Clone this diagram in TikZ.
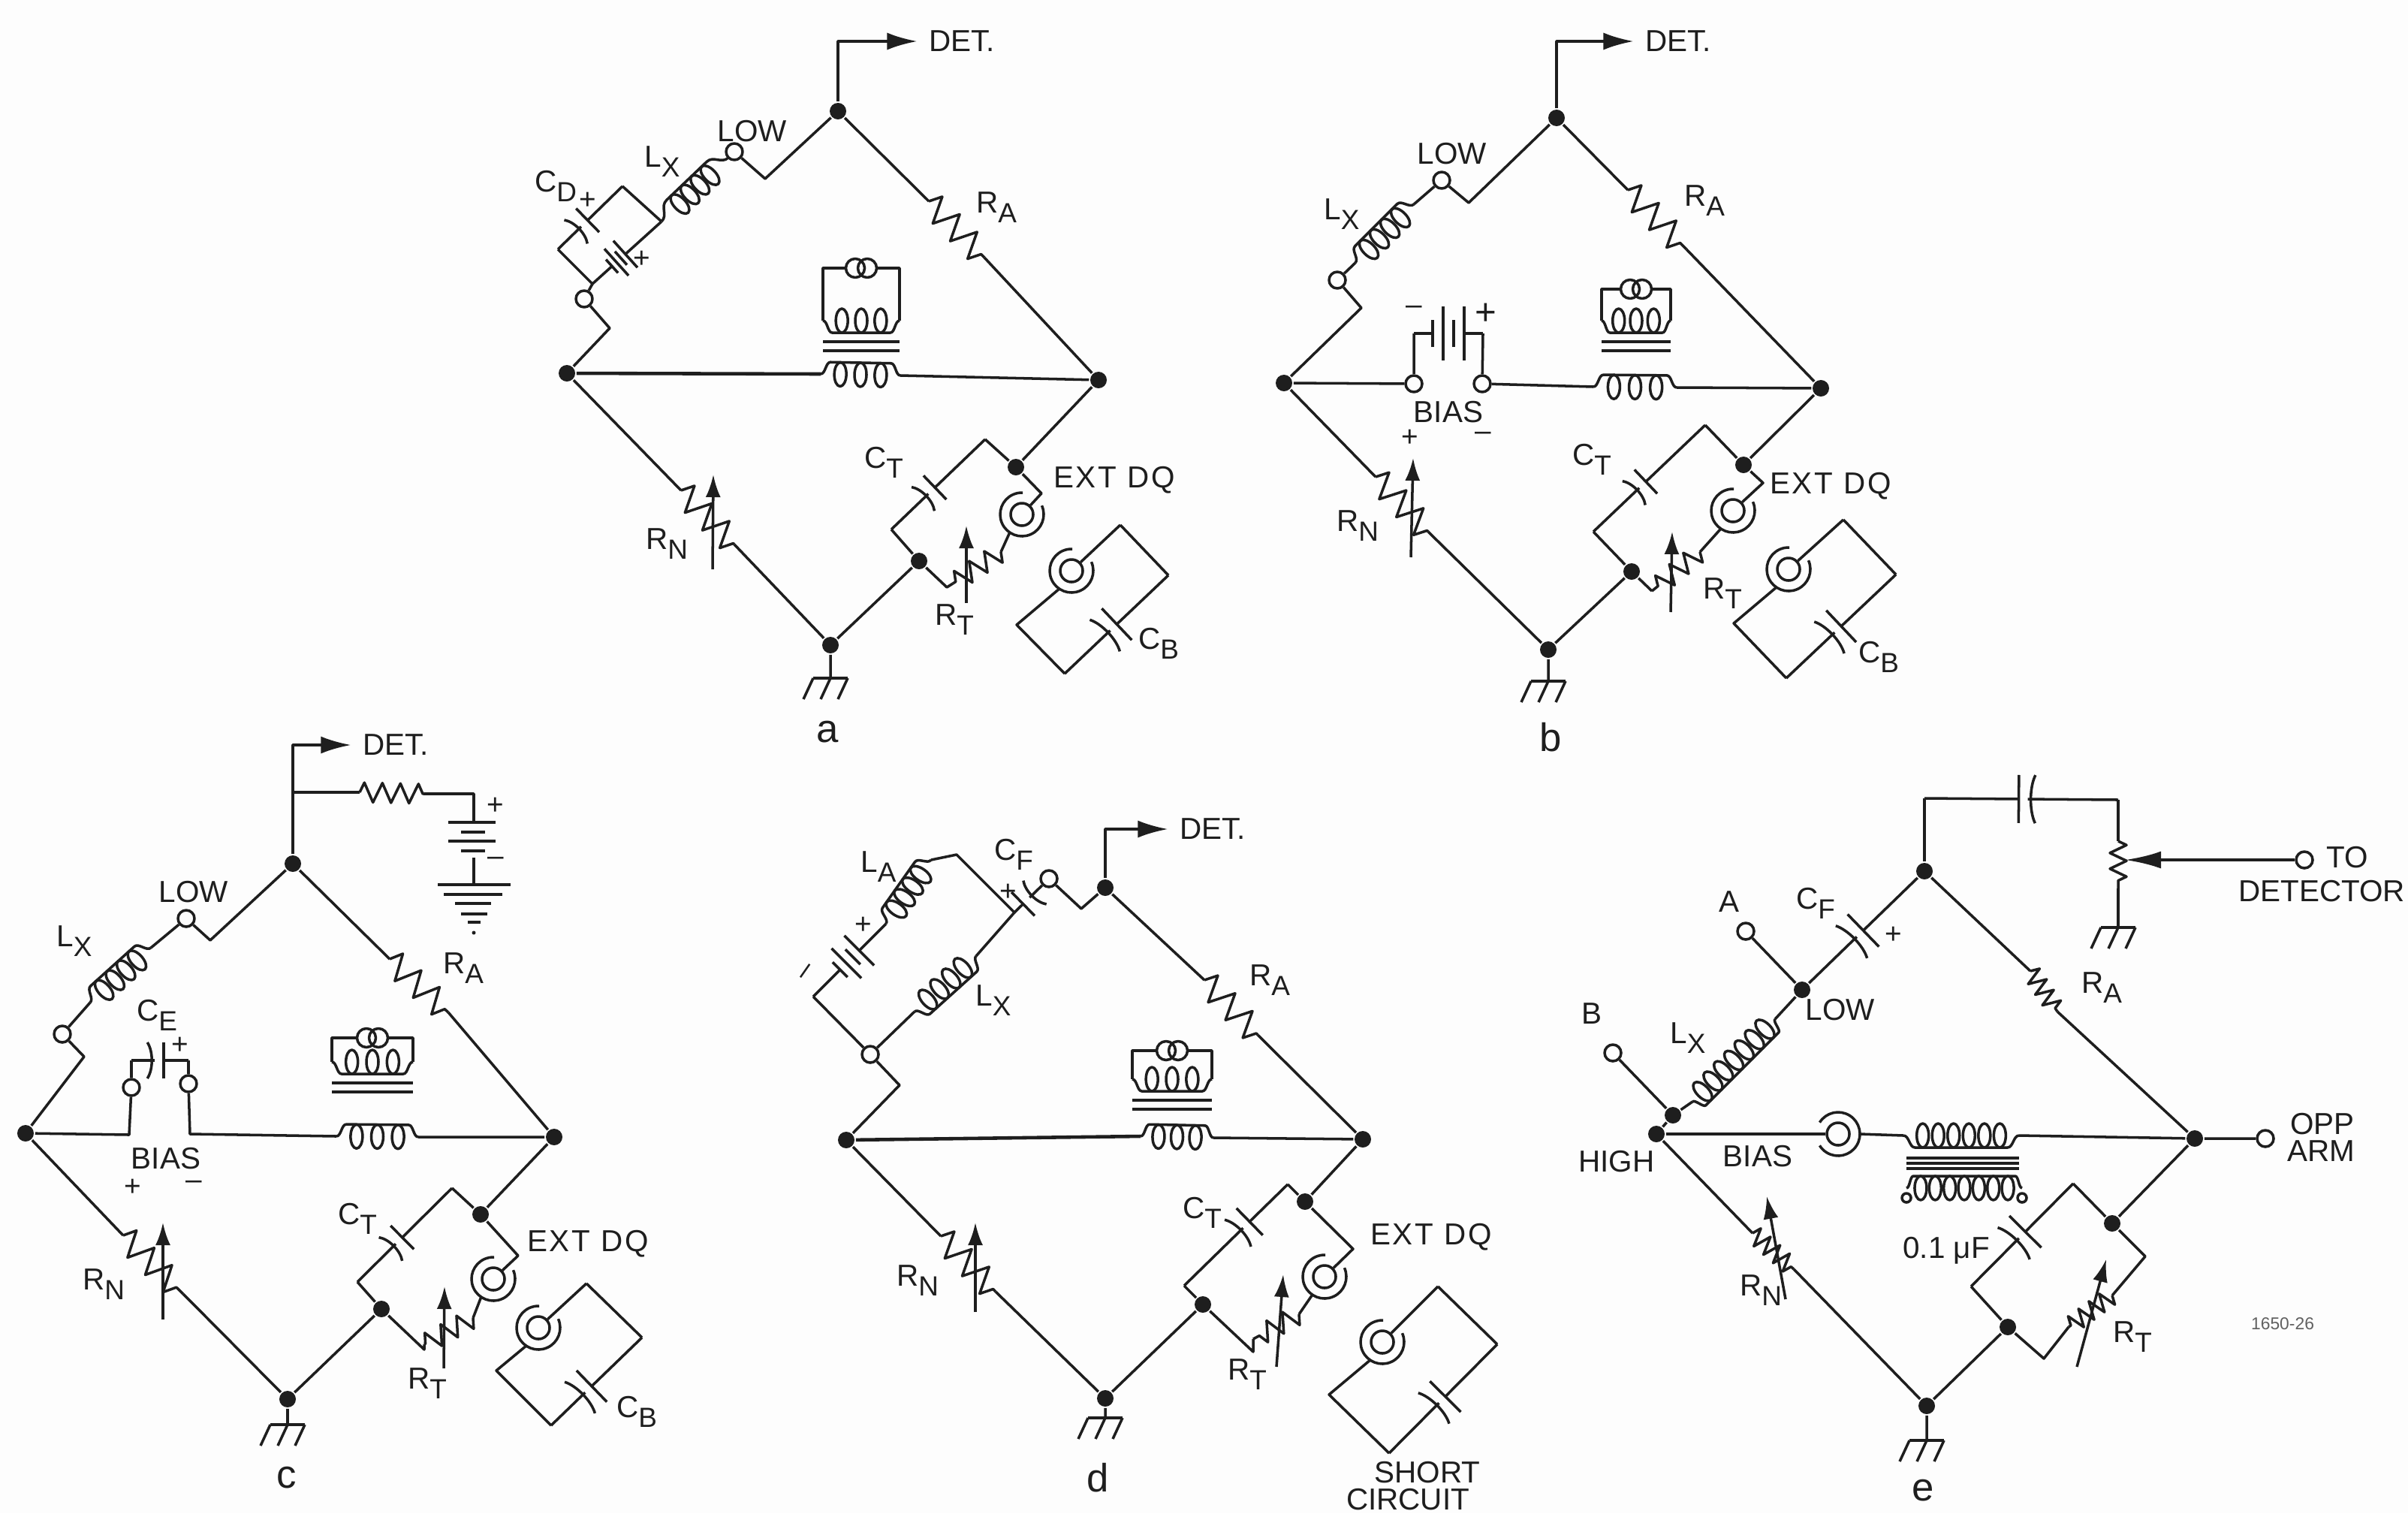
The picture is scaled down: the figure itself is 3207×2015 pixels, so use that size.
\documentclass[tikz,border=0pt]{standalone}
\usepackage{fontspec}
\setmainfont{Liberation Sans}
\newfontfamily\spacedfont[LetterSpace=7]{Liberation Sans}
\usepackage{tikz}
\usetikzlibrary{arrows.meta,calc,decorations.markings,decorations.pathmorphing}
\definecolor{ink}{HTML}{1E1E1E}
\definecolor{paper}{HTML}{FDFDFD}
\tikzset{
  dot/.style={circle,fill=ink,inner sep=0pt,minimum size=.22cm},
  term/.style={circle,draw=ink,fill=paper,inner sep=0pt,minimum size=.22cm},
  jackin/.style={circle,draw=ink,inner sep=0pt,minimum size=.3cm},
  pickring/.style={circle,draw=ink,inner sep=0pt,minimum size=.25cm},
  lbl/.style={inner sep=0pt,text=ink,font=\fontsize{11.5}{13}\selectfont},
  panel/.style={inner sep=0pt,text=ink,font=\fontsize{15}{17}\selectfont},
  sign/.style={inner sep=0pt,text=ink,font=\fontsize{11}{12}\selectfont},
  tiny/.style={inner sep=0pt,text=ink!70,font=\fontsize{6.5}{8}\selectfont},
  detarrow/.style={-{Latex[length=.4cm,width=.23cm]},shorten >=.14cm},
  varr/.style={-{Latex[length=.3cm,width=.2cm]}},
  zig/.style={decorate,decoration={zigzag,segment length=.33cm,amplitude=.17cm}},
  zigt/.style={decorate,decoration={zigzag,segment length=.24cm,amplitude=.13cm}},
  zign/.style={decorate,decoration={zigzag,segment length=.17cm,amplitude=.12cm}},
  capa/.style args={#1/#2}{postaction={decorate,decoration={markings,mark=at position #1 with {
    \fill[paper] (-6,-6) rectangle (6,6);
    \draw (-6,-#2) -- (-6,#2);
    \draw (16,-#2) .. controls (8,-#2/2) and (8,#2/2) .. (16,#2);
  }}}},
  batt/.style args={#1/#2/#3}{postaction={decorate,decoration={markings,mark=at position #1 with {
    \fill[paper] (-1.5*#3,-8) rectangle (1.5*#3,8);
    \draw (-1.5*#3,-#2) -- (-1.5*#3,#2);
    \draw (-.5*#3,-#2/2) -- (-.5*#3,#2/2);
    \draw (.5*#3,-#2) -- (.5*#3,#2);
    \draw (1.5*#3,-#2/2) -- (1.5*#3,#2/2);
  }}}},
  gnd/.pic={
    \draw (-23,0) -- (23,0);
    \foreach \i in {-23,0,23} \draw (\i,0) -- ++(-13,28);
  },
}
\newcommand{\lab}[2]{#1\raisebox{-3.6pt}{\fontsize{10.5}{12}\selectfont #2}}
% winding: from, to, loops, side of the running line, part left for each lead
\newcommand{\coilr}[5]{
  \pgfmathsetmacro{\cpc}{(1-2*#5)/#3}
  \pgfmathsetmacro{\cpa}{#5+.5*\cpc}
  \pgfmathsetmacro{\cpb}{1-#5-.4*\cpc}
  \path[decorate,decoration={markings,mark=between positions \cpa and \cpb step \cpc with {\draw (0,0) ellipse (8 and 16);}}] (#1) -- (#2);
  \draw (#1) .. controls ($(#1)!#5/2!(#2)$) and ($(#1)!#5/2!(#2)!#4*.16cm!90:(#2)$) .. ($(#1)!#5!(#2)!#4*.16cm!90:(#2)$)
    -- ($(#2)!#5!(#1)!#4*.16cm!-90:(#1)$) .. controls ($(#2)!#5/2!(#1)!#4*.16cm!-90:(#1)$) and ($(#2)!#5/2!(#1)$) .. (#2);
}
% coaxial jack: name, centre, direction of the opening
\newcommand{\jack}[3]{
  \node[jackin] (#1) at (#2) {};
  \draw ($(#1)+(#3+32:29)$) arc[start angle=#3+32,end angle=#3+328,radius=29];
  \coordinate (#1o) at ($(#1)+(#3+180:29)$);
}
% detector transformer above the line: prefix, x, box top, half width, core y
\newcommand{\pickup}[5]{
  \node[pickring] (#1Xfa) at (#2-8,#3) {};
  \node[pickring] (#1Xfb) at (#2+8,#3) {};
  \coordinate (#1Xfc) at (#2-#4,#3);
  \coordinate (#1Xfd) at (#2+#4,#3);
  \coordinate (#1Xfe) at (#2-#4,#5-28);
  \coordinate (#1Xff) at (#2+#4,#5-28);
  \draw (#1Xfa) -- (#1Xfc) -- (#1Xfe);
  \coilr{#1Xfe}{#1Xff}{3}{-1}{.12}
  \draw (#1Xff) -- (#1Xfd) -- (#1Xfb);
  \draw (#2-#4,#5) -- (#2+#4,#5);
  \draw (#2-#4,#5+12) -- (#2+#4,#5+12);
}
% test capacitor path: prefix, upper corner, left corner, capacitor place, plate half
\newcommand{\ctarm}[5]{
  \coordinate (#1Cu) at (#2);
  \coordinate (#1Cl) at (#3);
  \draw (#1P) -- (#1Cu);
  \draw[capa=#4/#5] (#1Cu) -- (#1Cl);
  \draw (#1Cl) -- (#1Q);
}
% loose jack and capacitor: prefix, top, right, bottom, left, jack centre, capacitor place
\newcommand{\extloop}[7]{
  \coordinate (#1Et) at (#2);
  \coordinate (#1Er) at (#3);
  \coordinate (#1Eb) at (#4);
  \coordinate (#1El) at (#5);
  \jack{#1Eg}{#6}{-56}
  \draw (#1Et) -- (#1Eg);
  \draw (#1Et) -- (#1Er);
  \draw[capa=#7/29] (#1Er) -- (#1Eb);
  \draw (#1Eb) -- (#1El) -- (#1Ego);
}
\begin{document}
\begin{tikzpicture}[x=.01cm,y=-.01cm,line width=1pt,draw=ink,line join=round]
\useasboundingbox (0,0) rectangle (3207,2015);
\fill[paper] (0,0) rectangle (3207,2015);

% a
\node[dot] (aT) at (1116,148) {};
\node[dot] (aL) at (755,497) {};
\node[dot] (aR) at (1463,506) {};
\node[dot] (aB) at (1106,859) {};
\node[dot] (aP) at (1353,622) {};
\node[dot] (aQ) at (1224,747) {};
\node[term] (aLow) at (978,202) {};
\node[term] (aBot) at (778,398) {};
\node[lbl] (aDet) at (1281,55) {DET.};
\node[lbl] (aLowL) at (1002,175) {LOW};
\node[lbl] (aLx) at (882,215) {\lab{L}{X}};
\node[lbl] (aCd) at (740,248) {\lab{C}{D}};
\node[sign] (aPa) at (783,267) {+};
\node[sign] (aPb) at (855,345) {+};
\node[lbl] (aRa) at (1327,276) {\lab{R}{A}};
\node[lbl] (aRn) at (888,724) {\lab{R}{N}};
\node[lbl] (aCt) at (1177,616) {\lab{C}{T}};
\node[lbl,font=\spacedfont\fontsize{11.5}{13}\selectfont] (aDq) at (1484,639) {EXT DQ};
\node[lbl] (aRt) at (1271,825) {\lab{R}{T}};
\node[lbl] (aCb) at (1543,857) {\lab{C}{B}};
\node[panel] (aName) at (1102,975) {a};
\coordinate (aK1) at (1019,238);
\coordinate (aLa) at (970,210);
\coordinate (aJ) at (881,295);
\coordinate (aC1) at (829,248);
\coordinate (aC2) at (743,332);
\coordinate (aJ2) at (789,378);
\coordinate (aK2) at (812,437);
\coordinate (aZa) at (1237,268);
\coordinate (aZb) at (1311,343);
\coordinate (aXa) at (1093,498);
\coordinate (aXb) at (1199,500);
\coordinate (aNa) at (907,653);
\coordinate (aNb) at (978,725);
\coordinate (aK3) at (1387,657);
\coordinate (aTa) at (1333,735);
\coordinate (aTb) at (1269,777);
\coordinate (aK4) at (1261,782);
\coordinate (aG) at (1106,903);
\draw[detarrow] (aT) |- (aDet.west);
\draw (aT) -- (aK1) -- (aLow);
\coilr{aLa}{aJ}{4}{-1}{.2}
\draw (aJ) -- (aC1);
\draw[capa=.59/22] (aC1) -- (aC2);
\draw (aC2) -- (aJ2);
\draw[batt=.62/24/8] (aJ) -- (aJ2);
\draw (aJ2) -- (aBot) -- (aK2) -- (aL);
\draw (aT) -- (aZa);
\draw[zig] (aZa) -- (aZb);
\draw (aZb) -- (aR);
\draw[line width=1.3pt] (aL) -- (aXa);
\coilr{aXa}{aXb}{3}{1}{.12}
\draw (aXb) -- (aR) -- (aP);
\pickup{a}{1147}{357}{51}{455}
\ctarm{a}{1312,585}{1187,705}{.57}{22}
\jack{aJk}{1361,685}{-56}
\draw (aP) -- (aK3) -- (aJk);
\draw (aJko) -- (aTa);
\draw[zigt] (aTa) -- (aTb);
\draw (aTb) -- (aK4) -- (aQ) -- (aB);
\draw (aL) -- (aNa);
\draw[zig] (aNa) -- (aNb);
\draw (aNb) -- (aB) -- (aG);
\pic at (aG) {gnd};
\draw[varr] (949,758) -- (950,632);
\draw[varr] (1287,803) -- (1287,700);
\extloop{a}{1492,699}{1556,766}{1418,897}{1354,832}{1427,760}{.53}

% b
\node[dot] (bT) at (2073,157) {};
\node[dot] (bL) at (1710,510) {};
\node[dot] (bR) at (2425,517) {};
\node[dot] (bB) at (2062,865) {};
\node[dot] (bP) at (2322,619) {};
\node[dot] (bQ) at (2173,761) {};
\node[term] (bLow) at (1920,240) {};
\node[term] (bBot) at (1781,373) {};
\node[term] (bSa) at (1883,511) {};
\node[term] (bSb) at (1974,511) {};
\node[lbl] (bDet) at (2235,55) {DET.};
\node[lbl] (bLowL) at (1934,205) {LOW};
\node[lbl] (bLx) at (1787,285) {\lab{L}{X}};
\node[sign] (bMa) at (1883,413) {–};
\node[sign,font=\fontsize{14}{15}\selectfont] (bPa) at (1979,418) {+};
\node[lbl] (bBias) at (1929,549) {BIAS};
\node[sign] (bPb) at (1878,583) {+};
\node[sign] (bMb) at (1975,581) {–};
\node[lbl] (bRa) at (2270,267) {\lab{R}{A}};
\node[lbl] (bRn) at (1808,700) {\lab{R}{N}};
\node[lbl] (bCt) at (2120,612) {\lab{C}{T}};
\node[lbl,font=\spacedfont\fontsize{11.5}{13}\selectfont] (bDq) at (2438,647) {EXT DQ};
\node[lbl] (bRt) at (2294,790) {\lab{R}{T}};
\node[lbl] (bCb) at (2502,875) {\lab{C}{B}};
\node[panel] (bName) at (2065,982) {b};
\coordinate (bK1) at (1956,270);
\coordinate (bK2) at (1813,410);
\coordinate (bLa) at (1883,272);
\coordinate (bLb) at (1805,350);
\coordinate (bZa) at (2168,253);
\coordinate (bZb) at (2246,332);
\coordinate (bXa) at (2122,515);
\coordinate (bXb) at (2233,516);
\coordinate (bUa) at (1883,444);
\coordinate (bUb) at (1975,444);
\coordinate (bNa) at (1832,635);
\coordinate (bNb) at (1902,708);
\coordinate (bK3) at (2348,643);
\coordinate (bTa) at (2264,735);
\coordinate (bTb) at (2200,787);
\coordinate (bG) at (2062,907);
\draw[detarrow] (bT) |- (bDet.west);
\draw (bT) -- (bK1) -- (bLow) -- (bLa);
\coilr{bLa}{bLb}{4}{-1}{.14}
\draw (bLb) -- (bBot) -- (bK2) -- (bL) -- (bSa) -- (bUa);
\draw[batt=.5/36/14] (bUb) -- (bUa);
\draw (bUb) -- (bSb) -- (bXa);
\coilr{bXa}{bXb}{3}{1}{.12}
\draw (bXb) -- (bR) -- (bP);
\draw (bT) -- (bZa);
\draw[zig] (bZa) -- (bZb);
\draw (bZb) -- (bR);
\pickup{b}{2179}{385}{46}{455}
\ctarm{b}{2271,566}{2122,708}{.56}{22}
\jack{bJk}{2308,680}{-56}
\draw (bP) -- (bK3) -- (bJk);
\draw (bJko) -- (bTa);
\draw[zigt] (bTa) -- (bTb);
\draw (bTb) -- (bQ) -- (bB);
\draw (bL) -- (bNa);
\draw[zig] (bNa) -- (bNb);
\draw (bNb) -- (bB) -- (bG);
\pic at (bG) {gnd};
\draw[varr] (1879,742) -- (1882,610);
\draw[varr] (2225,815) -- (2227,708);
\extloop{b}{2455,692}{2525,765}{2379,903}{2309,830}{2382,758}{.53}

% c
\node[dot] (cT) at (390,1150) {};
\node[dot] (cL) at (34,1509) {};
\node[dot] (cR) at (738,1514) {};
\node[dot] (cB) at (383,1863) {};
\node[dot] (cP) at (640,1617) {};
\node[dot] (cQ) at (508,1743) {};
\node[term] (cLow) at (248,1223) {};
\node[term] (cBot) at (83,1377) {};
\node[term] (cSa) at (175,1448) {};
\node[term] (cSb) at (251,1443) {};
\node[lbl] (cDet) at (527,992) {DET.};
\node[lbl] (cLowL) at (258,1188) {LOW};
\node[lbl] (cLx) at (99,1253) {\lab{L}{X}};
\node[lbl] (cCe) at (209,1352) {\lab{C}{E}};
\node[sign] (cPa) at (240,1392) {+};
\node[lbl] (cBias) at (221,1543) {BIAS};
\node[sign] (cPb) at (177,1581) {+};
\node[sign] (cMb) at (258,1578) {–};
\node[sign] (cPc) at (660,1073) {+};
\node[sign] (cMc) at (660,1147) {–};
\node[lbl] (cRa) at (617,1289) {\lab{R}{A}};
\node[lbl] (cRn) at (138,1710) {\lab{R}{N}};
\node[lbl] (cCt) at (476,1623) {\lab{C}{T}};
\node[lbl,font=\spacedfont\fontsize{11.5}{13}\selectfont] (cDq) at (783,1656) {EXT DQ};
\node[lbl] (cRt) at (569,1842) {\lab{R}{T}};
\node[lbl] (cCb) at (848,1880) {\lab{C}{B}};
\node[panel] (cName) at (382,1968) {c};
\coordinate (cF) at (390,1055);
\coordinate (cFa) at (479,1055);
\coordinate (cFb) at (565,1057);
\coordinate (cFc) at (631,1057);
\coordinate (cFd) at (631,1095);
\coordinate (cFe) at (631,1142);
\coordinate (cFf) at (631,1178);
\coordinate (cK1) at (280,1252);
\coordinate (cK2) at (112,1407);
\coordinate (cLa) at (201,1262);
\coordinate (cLb) at (120,1335);
\coordinate (cZa) at (519,1277);
\coordinate (cZb) at (597,1348);
\coordinate (cXa) at (448,1513);
\coordinate (cXb) at (557,1514);
\coordinate (cVa) at (172,1511);
\coordinate (cVb) at (253,1510);
\coordinate (cUa) at (175,1412);
\coordinate (cUb) at (251,1412);
\coordinate (cNa) at (164,1645);
\coordinate (cNb) at (244,1723);
\coordinate (cK3) at (690,1672);
\coordinate (cTa) at (630,1755);
\coordinate (cTb) at (565,1790);
\coordinate (cK4) at (565,1797);
\coordinate (cG) at (383,1897);
\draw[detarrow] (cT) |- (cDet.west);
\draw (cF) -- (cFa);
\draw[zigt] (cFa) -- (cFb);
\draw (cFb) -- (cFc) -- (cFd);
\draw (597,1095) -- (660,1095);
\draw (614,1108) -- (646,1108);
\draw (597,1120) -- (660,1120);
\draw (614,1133) -- (646,1133);
\draw (cFe) -- (cFf);
\draw (583,1178) -- (680,1178);
\draw (591,1191) -- (669,1191);
\draw (606,1203) -- (654,1203);
\draw (614,1217) -- (649,1217);
\draw (623,1228) -- (640,1228);
\fill[ink] (631,1242) circle (2.5);
\draw (cT) -- (cK1) -- (cLow) -- (cLa);
\coilr{cLa}{cLb}{4}{-1}{.14}
\draw (cLb) -- (cBot) -- (cK2) -- (cL) -- (cVa) -- (cSa) -- (cUa);
\draw[capa=.51/24] (cUb) -- (cUa);
\draw (cUb) -- (cSb) -- (cVb) -- (cXa);
\coilr{cXa}{cXb}{3}{1}{.12}
\draw (cXb) -- (cR) -- (cP);
\draw (cT) -- (cZa);
\draw[zig] (cZa) -- (cZb);
\draw (cZb) -- (cR);
\pickup{c}{496}{1382}{54}{1442}
\ctarm{c}{602,1582}{476,1707}{.56}{22}
\jack{cJk}{657,1703}{-56}
\draw (cP) -- (cK3) -- (cJk);
\draw (cJko) -- (cTa);
\draw[zigt] (cTa) -- (cTb);
\draw (cTb) -- (cK4) -- (cQ) -- (cB);
\draw (cL) -- (cNa);
\draw[zig] (cNa) -- (cNb);
\draw (cNb) -- (cB) -- (cG);
\pic at (cG) {gnd};
\draw[varr] (217,1757) -- (217,1628);
\draw[varr] (591,1822) -- (592,1713);
\extloop{c}{781,1709}{855,1781}{734,1898}{661,1825}{717,1768}{.59}

% d
\node[dot] (dT) at (1472,1182) {};
\node[dot] (dL) at (1127,1518) {};
\node[dot] (dR) at (1815,1517) {};
\node[dot] (dB) at (1472,1862) {};
\node[dot] (dP) at (1738,1600) {};
\node[dot] (dQ) at (1602,1737) {};
\node[term] (dBot) at (1159,1404) {};
\node[term] (dLow) at (1397,1170) {};
\node[lbl] (dDet) at (1615,1104) {DET.};
\node[lbl] (dCf) at (1350,1138) {\lab{C}{F}};
\node[lbl] (dLa) at (1170,1154) {\lab{L}{A}};
\node[sign] (dPa) at (1343,1188) {+};
\node[sign] (dPb) at (1150,1232) {+};
\node[sign,rotate=55] (dMa) at (1076,1295) {–};
\node[lbl] (dLx) at (1323,1332) {\lab{L}{X}};
\node[lbl] (dRa) at (1691,1305) {\lab{R}{A}};
\node[lbl] (dRn) at (1222,1705) {\lab{R}{N}};
\node[lbl] (dCt) at (1601,1615) {\lab{C}{T}};
\node[lbl,font=\spacedfont\fontsize{11.5}{13}\selectfont] (dDq) at (1906,1647) {EXT DQ};
\node[lbl] (dRt) at (1661,1830) {\lab{R}{T}};
\node[lbl] (dShort) at (1901,1961) {SHORT};
\node[lbl] (dCirc) at (1875,1997) {CIRCUIT};
\node[panel] (dName) at (1462,1968) {d};
\coordinate (dK1) at (1440,1210);
\coordinate (dK2) at (1198,1445);
\coordinate (dJ) at (1351,1215);
\coordinate (dLb) at (1218,1347);
\coordinate (dLc) at (1300,1273);
\coordinate (dCa) at (1083,1327);
\coordinate (dBa) at (1180,1230);
\coordinate (dLd) at (1240,1145);
\coordinate (dCu) at (1274,1138);
\coordinate (dZa) at (1604,1305);
\coordinate (dZb) at (1675,1378);
\coordinate (dXa) at (1519,1513);
\coordinate (dXb) at (1616,1515);
\coordinate (dNa) at (1253,1646);
\coordinate (dNb) at (1326,1720);
\coordinate (dK3) at (1802,1663);
\coordinate (dTa) at (1730,1750);
\coordinate (dTb) at (1669,1783);
\coordinate (dK4) at (1669,1800);
\coordinate (dG) at (1472,1888);
\draw[detarrow] (dT) |- (dDet.west);
\draw (dT) -- (dK1) -- (dLow);
\draw[capa=.43/22] (dJ) -- (dLow);
\draw (dJ) -- (dLc);
\coilr{dLc}{dLb}{4}{1}{.12}
\draw (dLb) -- (dBot) -- (dK2) -- (dL);
\draw (dBot) -- (dCa);
\draw[batt=.5/28/12] (dBa) -- (dCa);
\coilr{dBa}{dLd}{4}{1}{.14}
\draw (dLd) -- (dCu) -- (dJ);
\draw (dT) -- (dZa);
\draw[zig] (dZa) -- (dZb);
\draw (dZb) -- (dR);
\draw[line width=1.3pt] (dL) -- (dXa);
\coilr{dXa}{dXb}{3}{1}{.12}
\draw (dXb) -- (dR) -- (dP);
\pickup{d}{1561}{1399}{53}{1465}
\ctarm{d}{1715,1577}{1577,1712}{.40}{25}
\jack{dJk}{1764,1700}{-56}
\draw (dP) -- (dK3) -- (dJk);
\draw (dJko) -- (dTa);
\draw[zigt] (dTa) -- (dTb);
\draw (dTb) -- (dK4) -- (dQ) -- (dB);
\draw (dL) -- (dNa);
\draw[zig] (dNa) -- (dNb);
\draw (dNb) -- (dB) -- (dG);
\pic at (dG) {gnd};
\draw[varr] (1299,1747) -- (1299,1628);
\draw[varr] (1700,1820) -- (1709,1697);
\extloop{d}{1915,1713}{1994,1790}{1850,1935}{1770,1857}{1841,1787}{.51}

% e
\node[dot] (eT) at (2563,1160) {};
\node[dot] (eLw) at (2400,1318) {};
\node[dot] (eHi) at (2228,1485) {};
\node[dot] (eL) at (2206,1510) {};
\node[dot] (eR) at (2923,1516) {};
\node[dot] (eB) at (2566,1872) {};
\node[dot] (eP) at (2813,1629) {};
\node[dot] (eQ) at (2674,1767) {};
\node[term] (eA) at (2325,1240) {};
\node[term] (eBt) at (2148,1402) {};
\node[term] (eTo) at (3069,1145) {};
\node[term] (eOp) at (3017,1516) {};
\node[lbl] (eAl) at (2303,1201) {A};
\node[lbl] (eCf) at (2418,1203) {\lab{C}{F}};
\node[sign] (ePa) at (2522,1245) {+};
\node[lbl] (eBl) at (2120,1350) {B};
\node[lbl] (eLx) at (2248,1382) {\lab{L}{X}};
\node[lbl] (eLowL) at (2451,1345) {LOW};
\node[lbl] (eHigh) at (2153,1547) {HIGH};
\node[lbl] (eBias) at (2341,1540) {BIAS};
\node[lbl] (eToL) at (3126,1142) {TO};
\node[lbl] (eDet) at (3092,1187) {DETECTOR};
\node[lbl] (eOpp) at (3093,1497) {OPP};
\node[lbl] (eArm) at (3091,1533) {ARM};
\node[lbl] (eRa) at (2799,1315) {\lab{R}{A}};
\node[lbl] (eRn) at (2345,1718) {\lab{R}{N}};
\node[lbl] (eC) at (2592,1665) {0.1 μF};
\node[lbl] (eRt) at (2840,1780) {\lab{R}{T}};
\node[tiny] (eNo) at (3040,1763) {1650-26};
\node[panel] (eName) at (2561,1985) {e};
\coordinate (eU) at (2563,1063);
\coordinate (eV) at (2821,1065);
\coordinate (ePa1) at (2821,1120);
\coordinate (ePm) at (2821,1145);
\coordinate (ePb1) at (2821,1183);
\coordinate (eG1) at (2821,1235);
\coordinate (eLa) at (2364,1357);
\coordinate (eLb) at (2254,1467);
\coordinate (eZa) at (2704,1293);
\coordinate (eZb) at (2740,1347);
\coordinate (eXa) at (2535,1512);
\coordinate (eXb) at (2689,1512);
\coordinate (eYa) at (2539,1582);
\coordinate (eYb) at (2693,1582);
\coordinate (eCu) at (2761,1576);
\coordinate (eCl) at (2625,1713);
\coordinate (eK3) at (2857,1673);
\coordinate (eTa) at (2813,1725);
\coordinate (eTb) at (2755,1767);
\coordinate (eK4) at (2722,1809);
\coordinate (eNa) at (2334,1642);
\coordinate (eNb) at (2389,1690);
\coordinate (eG) at (2566,1918);
\draw (eT) -- (eU);
\draw[capa=.51/32] (eU) -- (eV);
\draw (eV) -- (ePa1);
\draw[decorate,decoration={zigzag,segment length=.21cm,amplitude=.11cm}] (ePa1) -- (ePb1);
\draw (ePb1) -- (eG1);
\draw[-{Latex[length=.48cm,width=.23cm]},line width=1.3pt] (eTo) -- (2830,1145);
\pic at (eG1) {gnd};
\draw (eA) -- (eLw);
\draw[capa=.53/30] (eT) -- (eLw);
\draw (eLw) -- (eLa);
\coilr{eLa}{eLb}{7}{1}{.06}
\draw (eLb) -- (eHi) -- (eBt);
\draw (eHi) -- (eL);
\jack{eJk}{2448,1510}{180}
\draw (eL) -- (eJk);
\draw (eJko) -- (eXa);
\coilr{eXa}{eXb}{6}{-1}{.1}
\draw (eXb) -- (eR) -- (eOp);
\draw (2539,1542) -- (2689,1542);
\draw (2539,1549) -- (2689,1549);
\draw (2539,1556) -- (2689,1556);
\coilr{eYa}{eYb}{7}{1}{.06}
\draw (2539,1595) circle (6);
\draw (2693,1595) circle (6);
\draw (eT) -- (eZa);
\draw[zign] (eZa) -- (eZb);
\draw (eZb) -- (eR) -- (eP) -- (eCu);
\draw[capa=.5/30] (eCu) -- (eCl);
\draw (eCl) -- (eQ);
\draw (eP) -- (eK3) -- (eTa);
\draw[zign] (eTa) -- (eTb);
\draw (eTb) -- (eK4) -- (eQ) -- (eB);
\draw (eL) -- (eNa);
\draw[zign] (eNa) -- (eNb);
\draw (eNb) -- (eB) -- (eG);
\pic at (eG) {gnd};
\draw[varr] (2378,1730) -- (2353,1593);
\draw[varr] (2766,1820) -- (2805,1677);
\end{tikzpicture}
\end{document}
